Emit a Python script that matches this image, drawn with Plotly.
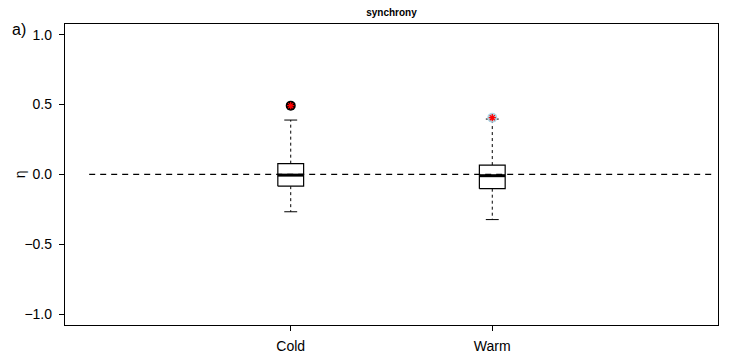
import plotly.graph_objects as go

# ---- data ----
groups = ["Cold", "Warm"]
positions = [1, 2]
q1 = [-0.084, -0.102]
median = [-0.005, -0.009]
q3 = [0.077, 0.067]
lower_whisker = [-0.267, -0.323]
upper_whisker = [0.389, 0.396]
outliers = [[0.492], [0.406]]
outlier_fill = ["black", "lightblue"]
y_ticks = [-1.0, -0.5, 0.0, 0.5, 1.0]
y_tick_labels = ["\u22121.0", "\u22120.5", "0.0", "0.5", "1.0"]
ref_line = [0, 3.1]

box_half = 0.064
cap_half = 0.032

FONT = "Liberation Sans, Arial, Helvetica, sans-serif"

fig = go.Figure()

for i, p in enumerate(positions):
    # whiskers (dashed)
    fig.add_trace(go.Scatter(x=[p, p, None, p, p],
                             y=[q3[i], upper_whisker[i], None, q1[i], lower_whisker[i]],
                             mode="lines", line=dict(color="black", width=1, dash="3px,3px"),
                             hoverinfo="skip", showlegend=False))
    # caps
    fig.add_trace(go.Scatter(x=[p - cap_half, p + cap_half, None, p - cap_half, p + cap_half],
                             y=[upper_whisker[i], upper_whisker[i], None, lower_whisker[i], lower_whisker[i]],
                             mode="lines", line=dict(color="black", width=1),
                             hoverinfo="skip", showlegend=False))
    # box
    fig.add_trace(go.Scatter(x=[p - box_half, p + box_half, p + box_half, p - box_half, p - box_half],
                             y=[q1[i], q1[i], q3[i], q3[i], q1[i]],
                             mode="lines", fill="toself", fillcolor="white",
                             line=dict(color="black", width=1.2),
                             hoverinfo="skip", showlegend=False))
    # median
    fig.add_trace(go.Scatter(x=[p - box_half, p + box_half], y=[median[i], median[i]],
                             mode="lines", line=dict(color="black", width=3),
                             hoverinfo="skip", showlegend=False))

# dashed zero reference line drawn over the boxes (as in reference)
fig.add_trace(go.Scatter(x=ref_line, y=[0, 0], mode="lines",
                         line=dict(color="black", width=1.2, dash="6px,5px"),
                         hoverinfo="skip", showlegend=False))

for i, p in enumerate(positions):
    ys = outliers[i]
    fig.add_trace(go.Scatter(x=[p] * len(ys), y=ys, mode="markers",
                             marker=dict(symbol="circle", size=10, color=outlier_fill[i],
                                         line=dict(width=0)),
                             hoverinfo="skip", showlegend=False))
    fig.add_trace(go.Scatter(x=[p] * len(ys), y=ys, mode="markers",
                             marker=dict(symbol="asterisk-open", size=6, color="red",
                                         line=dict(color="red", width=1.3)),
                             hoverinfo="skip", showlegend=False))

fig.update_layout(
    width=738, height=360,
    margin=dict(l=65, r=20, t=24, b=35),
    paper_bgcolor="white", plot_bgcolor="white",
    font=dict(family=FONT, size=14, color="black"),
    showlegend=False,
    title=dict(text="<b>synchrony</b>", x=0.5, xref="paper", y=0.965, yref="container",
               xanchor="center", yanchor="middle", font=dict(size=10, family=FONT, color="black")),
    xaxis=dict(range=[-0.12, 3.12], tickmode="array", tickvals=positions, ticktext=groups,
               ticks="outside", ticklen=5, tickcolor="black", showgrid=False, zeroline=False,
               showline=True, linecolor="black", linewidth=1.3, mirror=True,
               ticklabelstandoff=3, automargin=False,
               tickfont=dict(size=14, family=FONT, color="black")),
    yaxis=dict(range=[-1.077, 1.076], tickmode="array", tickvals=y_ticks, ticktext=y_tick_labels,
               ticks="outside", ticklen=5, tickcolor="black", showgrid=False, zeroline=False,
               showline=True, linecolor="black", linewidth=1.3, mirror=True,
               ticklabelstandoff=4, automargin=False,
               tickfont=dict(size=14, family=FONT, color="black")),
)
fig.add_annotation(text="\u03b7", xref="paper", yref="y", x=-0.069, y=0,
                   xanchor="center", yanchor="middle", textangle=-90, showarrow=False,
                   font=dict(size=14, family=FONT, color="black"))
fig.add_annotation(text="a)", xref="paper", yref="paper", x=-0.084, y=0.982,
                   xanchor="left", yanchor="middle", showarrow=False,
                   font=dict(size=16, family=FONT, color="black"))

fig.write_html("out.html")
